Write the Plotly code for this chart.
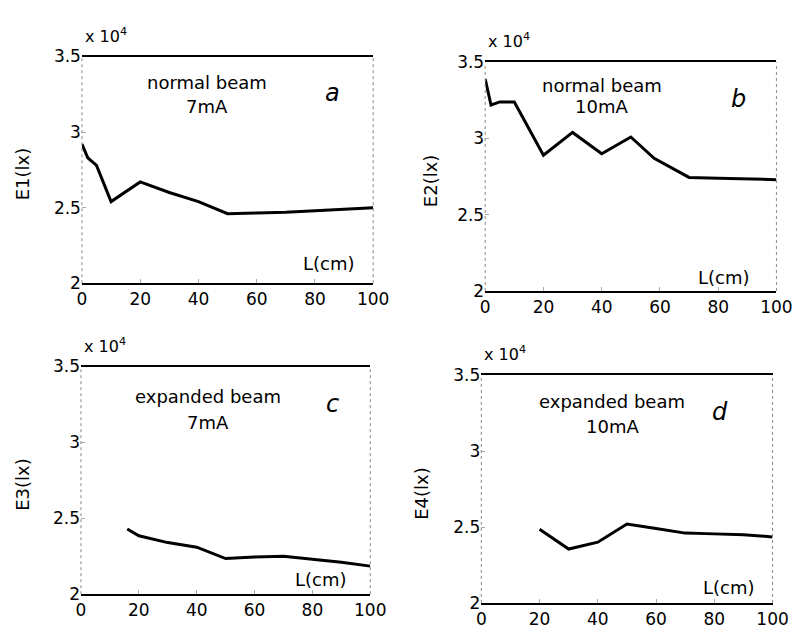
import plotly.graph_objects as go

W, H = 809, 642

# Data (values in units of 1e4 lx)
L_a = [0, 2, 5, 10, 20, 30, 40, 50, 60, 70, 80, 90, 100]
E1 = [2.92, 2.83, 2.78, 2.54, 2.67, 2.60, 2.54, 2.46, 2.465, 2.47, 2.48, 2.49, 2.50]

L_b = [0, 2, 5, 10, 20, 30, 40, 50, 58, 62, 70, 80, 90, 100]
E2 = [3.39, 3.22, 3.24, 3.24, 2.89, 3.04, 2.90, 3.01, 2.87, 2.83, 2.745, 2.74, 2.735, 2.73]

L_c = [16, 20, 30, 40, 50, 60, 70, 80, 90, 100]
E3 = [2.43, 2.385, 2.34, 2.31, 2.235, 2.245, 2.25, 2.23, 2.21, 2.185]

L_d = [20, 30, 40, 50, 60, 70, 80, 90, 100]
E4 = [2.485, 2.355, 2.40, 2.52, 2.49, 2.46, 2.455, 2.45, 2.435]

x_ticks = [0, 20, 40, 60, 80, 100]
y_ticks = [2, 2.5, 3, 3.5]
y_ticklabels = ["2", "2.5", "3", "3.5"]

panels = [
    dict(box=(79, 378, 48, 282), x=L_a, y=E1, ylab="E1(lx)", t1="normal beam", t2="7mA", letter="a",
         tx=43, ty1=3.33, ty2=3.17, lx=86, ly=3.26, cx=85, cy=2.13, yt=18),
    dict(box=(493, 792, 54, 290), x=L_b, y=E2, ylab="E2(lx)", t1="normal beam", t2="10mA", letter="b",
         tx=40, ty1=3.35, ty2=3.21, lx=87, ly=3.26, cx=82, cy=2.09, yt=437),
    dict(box=(78, 375, 368, 603), x=L_c, y=E3, ylab="E3(lx)", t1="expanded beam", t2="7mA", letter="c",
         tx=44, ty1=3.30, ty2=3.13, lx=87, ly=3.25, cx=83, cy=2.10, yt=18),
    dict(box=(489, 788, 377, 612), x=L_d, y=E4, ylab="E4(lx)", t1="expanded beam", t2="10mA", letter="d",
         tx=45, ty1=3.33, ty2=3.16, lx=82, ly=3.26, cx=85, cy=2.10, yt=428),
]

FONT = "DejaVu Sans, sans-serif"
fig = go.Figure()
annotations = []
shapes = []

for i, p in enumerate(panels):
    n = "" if i == 0 else str(i + 1)
    xa, ya = "x" + n, "y" + n
    x0, x1, y0, y1 = p["box"]
    fig.add_trace(go.Scatter(x=p["x"], y=p["y"], mode="lines",
                             line=dict(color="black", width=3),
                             xaxis=xa, yaxis=ya, showlegend=False, hoverinfo="skip"))
    xd = [x0 / W, x1 / W]
    yd = [1 - y1 / H, 1 - y0 / H]
    fig.layout["xaxis" + n] = dict(domain=xd, range=[0, 100], anchor=ya,
                                   tickvals=x_ticks, ticks="inside", ticklen=4, tickcolor="#aaa",
                                   showline=True, linecolor="black", linewidth=1.5, mirror=True,
                                   showgrid=False, zeroline=False,
                                   tickfont=dict(family=FONT, size=17, color="black"))
    fig.layout["yaxis" + n] = dict(domain=yd, range=[2, 3.5], anchor=xa,
                                   tickvals=y_ticks, ticktext=y_ticklabels,
                                   ticks="inside", ticklen=4, tickcolor="#aaa",
                                   showline=False, showgrid=False, zeroline=False,
                                   tickfont=dict(family=FONT, size=17, color="black"))
    for xx in (0, 1):
        shapes.append(dict(type="line", xref=xa + " domain", yref=ya + " domain",
                           x0=xx, x1=xx, y0=0, y1=1,
                           line=dict(color="#888", width=1, dash="dot")))
    common = dict(xref=xa, yref=ya, showarrow=False, font=dict(family=FONT, size=18, color="black"))
    annotations.append(dict(x=p["tx"], y=p["ty1"], text=p["t1"], **common))
    annotations.append(dict(x=p["tx"], y=p["ty2"], text=p["t2"], **common))
    annotations.append(dict(x=p["lx"], y=p["ly"], text="<i>" + p["letter"] + "</i>",
                            xref=xa, yref=ya, showarrow=False,
                            font=dict(family=FONT, size=24, color="black")))
    annotations.append(dict(x=p["cx"], y=p["cy"], text="L(cm)", **common))
    annotations.append(dict(x=0, y=1, xref=xa + " domain", yref=ya + " domain",
                            xanchor="left", yanchor="bottom", xshift=1, yshift=9, showarrow=False,
                            text="x 10<sup>4</sup>", font=dict(family=FONT, size=16, color="black")))
    annotations.append(dict(x=p["yt"] / W, y=1 - ((y0 + y1) / 2 + 4) / H, xref="paper", yref="paper",
                            xanchor="center", yanchor="middle",
                            textangle=-90, showarrow=False, text=p["ylab"],
                            font=dict(family=FONT, size=18, color="black")))

fig.update_layout(width=W, height=H, margin=dict(l=0, r=0, t=0, b=0),
                  paper_bgcolor="white", plot_bgcolor="white",
                  annotations=annotations, shapes=shapes)

fig.write_html("out.html")
